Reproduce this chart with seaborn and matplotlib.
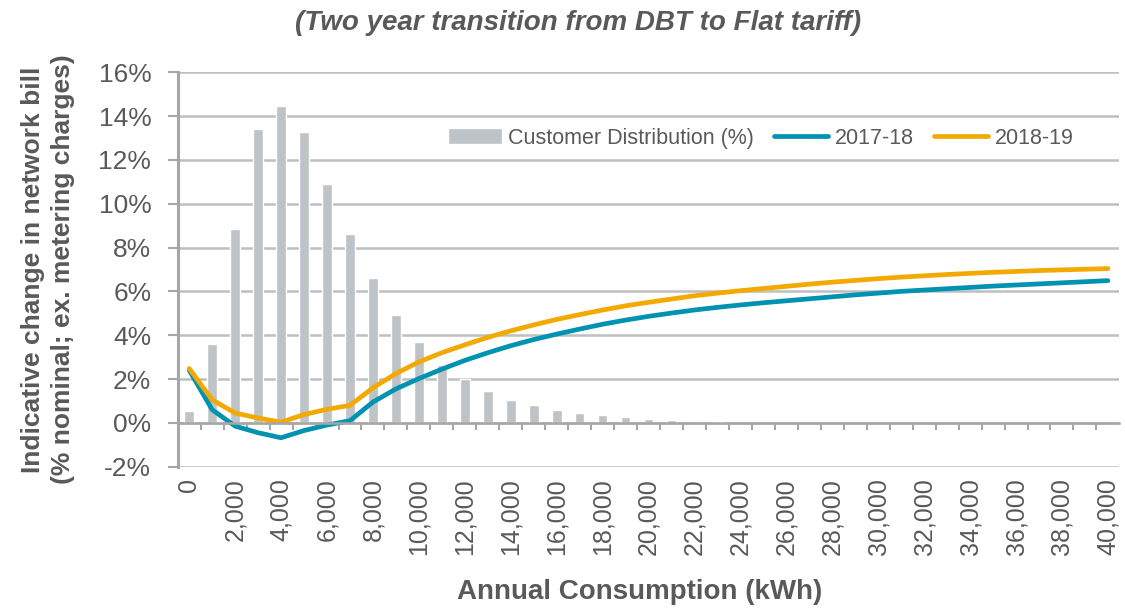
import matplotlib
matplotlib.use('Agg')
import matplotlib.pyplot as plt
import seaborn as sns
import pandas as pd
from matplotlib.ticker import FuncFormatter, MultipleLocator

sns.set_theme(style='white')
plt.rcParams['font.family'] = ['Liberation Sans', 'DejaVu Sans']
plt.rcParams['axes.unicode_minus'] = False

TEXT = '#595959'
GRID = '#bfbfbf'

# customer distribution per 1,000 kWh band (%)
dist_kwh = [i * 1000 for i in range(24)]
dist_pct = [0.55, 3.6, 8.85, 13.4, 14.45, 13.25, 10.9, 8.6, 6.6, 4.9, 3.7, 2.62,
            2.0, 1.46, 1.05, 0.8, 0.6, 0.45, 0.34, 0.26, 0.18, 0.13, 0.09, 0.05]

# indicative bill change (%) by annual consumption
line_kwh = [i * 1000 for i in range(41)]
chg_1718 = [2.4, 0.6, -0.15, -0.45, -0.68, -0.35, -0.1, 0.1, 0.95, 1.55, 2.02,
            2.45, 2.85, 3.2, 3.52, 3.8, 4.05, 4.28, 4.5, 4.69, 4.86, 5.01, 5.15,
            5.27, 5.38, 5.48, 5.57, 5.66, 5.75, 5.84, 5.92, 6.0, 6.06, 6.12, 6.18,
            6.24, 6.29, 6.34, 6.39, 6.44, 6.49]
chg_1819 = [2.48, 1.05, 0.45, 0.22, 0.03, 0.38, 0.62, 0.8, 1.6, 2.25, 2.78,
            3.2, 3.56, 3.9, 4.2, 4.47, 4.72, 4.94, 5.15, 5.34, 5.5, 5.65, 5.8,
            5.92, 6.03, 6.13, 6.23, 6.33, 6.42, 6.5, 6.58, 6.65, 6.71, 6.77, 6.82,
            6.87, 6.91, 6.95, 6.98, 7.01, 7.04]

bars = pd.DataFrame({'kwh': dist_kwh, 'pct': dist_pct})
lines = pd.DataFrame({'kwh': line_kwh, '2017-18': chg_1718, '2018-19': chg_1819})

fig = plt.figure(figsize=(11.25, 6.11), dpi=100)
ax = fig.add_axes([0.158, 0.236, 0.837, 0.646])

sns.barplot(data=bars, x='kwh', y='pct', native_scale=True, width=0.42,
            color='#bec3c7', saturation=1, label='Customer Distribution (%)', ax=ax)
sns.lineplot(data=lines, x='kwh', y='2017-18', color='#0092b1', lw=3.4,
             label='2017-18', ax=ax)
sns.lineplot(data=lines, x='kwh', y='2018-19', color='#f2a900', lw=3.4,
             label='2018-19', ax=ax)

ax.set_xlim(-500, 40500)
ax.set_ylim(-2.005, 16.005)
ax.set_axisbelow(True)
ax.yaxis.grid(True, color=GRID, lw=1.8)
ax.yaxis.set_major_locator(MultipleLocator(2))
ax.yaxis.set_major_formatter(FuncFormatter(lambda v, p: f'{v:.0f}%'))

for s in ['top', 'right']:
    ax.spines[s].set_visible(False)
ax.spines['left'].set_color('#a6a6a6')
ax.spines['left'].set_linewidth(2.2)
ax.spines['bottom'].set_position(('data', 0))
ax.spines['bottom'].set_color('#a6a6a6')
ax.spines['bottom'].set_linewidth(1.8)

ax.set_xticks(range(0, 40001, 2000))
ax.set_xticklabels([f'{v:,}' for v in range(0, 40001, 2000)], rotation=90)
ax.set_xticks(range(500, 40000, 1000), minor=True)
ax.tick_params(axis='x', which='major', length=0, pad=40, labelsize=18, colors=TEXT)
ax.tick_params(axis='x', which='minor', direction='out', length=5, width=1.5,
               color='#a6a6a6', bottom=True)
ax.tick_params(axis='y', direction='out', length=7, width=1.5, color='#a6a6a6',
               left=True, labelsize=19, labelcolor=TEXT, pad=12)

ax.set_xlabel('Annual Consumption (kWh)', fontsize=20, fontweight='bold', color=TEXT)
ax.set_ylabel('Indicative change in network bill\n(% nominal; ex. metering charges)',
              fontsize=19, fontweight='bold', color=TEXT, linespacing=1.3)
ax.xaxis.set_label_coords(0.49, -0.285)
ax.yaxis.set_label_coords(-0.109, 0.5)

h, l = ax.get_legend_handles_labels()
order = [l.index('Customer Distribution (%)'), l.index('2017-18'), l.index('2018-19')]
ax.legend([h[i] for i in order], [l[i] for i in order], loc='center',
          bbox_to_anchor=(0.619, 0.833), ncol=3, frameon=False, fontsize=15.5,
          labelcolor=TEXT, handlelength=2.5, handletextpad=0.3, columnspacing=0.95)

fig.text(0.514, 0.962, '(Two year transition from DBT to Flat tariff)',
         ha='center', va='center', fontsize=20, fontweight='bold', style='italic',
         color=TEXT)

fig.savefig('out.png', dpi=100)
